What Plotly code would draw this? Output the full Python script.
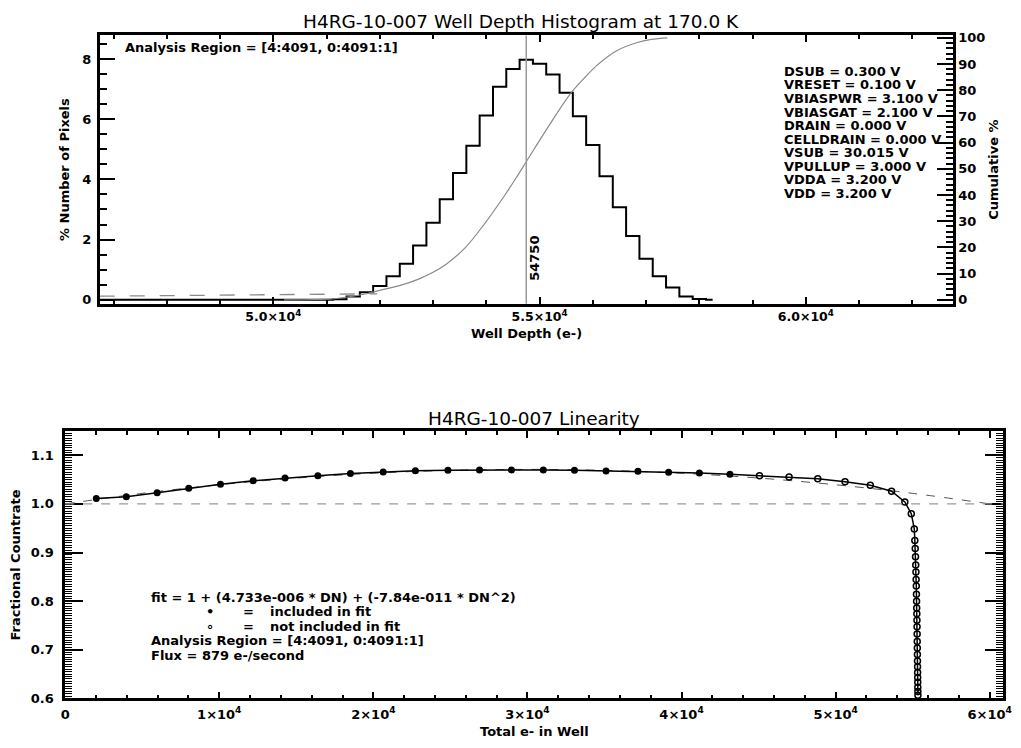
import plotly.graph_objects as go

# ---- top panel: well depth histogram (bin centres, % of pixels) ----
HIST_BIN_CENTER = [46750, 51000, 51250, 51500, 51750, 52000, 52250, 52500, 52750, 53000,
                   53250, 53500, 53750, 54000, 54250, 54500, 54750, 55000, 55250, 55500,
                   55750, 56000, 56250, 56500, 56750, 57000, 57250, 57500, 57750, 58000, 58250]
HIST_PCT = [0, 0, 0.02, 0.11, 0.25, 0.46, 0.78, 1.20, 1.80, 2.56,
            3.34, 4.21, 5.12, 6.12, 7.08, 7.67, 7.97, 7.84, 7.48, 6.88,
            6.10, 5.14, 4.10, 3.07, 2.12, 1.36, 0.78, 0.41, 0.11, 0.03, 0]

CUM_X = [50200, 50800, 51150, 51750, 52000, 52400, 52740, 53000, 53240, 53610, 53980, 54350,
         54590, 54750, 55150, 55580, 55830, 56070, 56440, 56820, 57100, 57400]
CUM_PCT = [0.0, 0.1, 0.4, 2.3, 3.6, 5.6, 8.0, 10.5, 13.5, 20.0, 29.4, 40.0,
           47.5, 52.7, 65.6, 78.7, 84.4, 89.4, 95.0, 98.1, 99.4, 100.0]

TAIL_X = [46740, 51950]
TAIL_PCT = [0.12, 0.2]

PEAK_DEPTH = 54750

TOP_XTICK_VALS = [50000, 55000, 60000]
TOP_XTICK_TEXT = ["5.0×10<sup>4</sup>", "5.5×10<sup>4</sup>", "6.0×10<sup>4</sup>"]

BIAS_LINES = ["DSUB = 0.300 V", "VRESET = 0.100 V", "VBIASPWR = 3.100 V", "VBIASGAT = 2.100 V",
              "DRAIN = 0.000 V", "CELLDRAIN = 0.000 V", "VSUB = 30.015 V", "VPULLUP = 3.000 V",
              "VDDA = 3.200 V", "VDD = 3.200 V"]

# ---- bottom panel: linearity ----
FIT_IN_X = [2020, 3970, 5970, 8020, 10080, 12200, 14270, 16400, 18510, 20640, 22730,
            24840, 26890, 28960, 31030, 33050, 35100, 37170, 39160, 41160, 43140]
FIT_IN_Y = [1.0109, 1.0149, 1.0229, 1.0322, 1.0402, 1.0477, 1.0531, 1.0577, 1.0624, 1.0658, 1.0684,
            1.0691, 1.0698, 1.0698, 1.0698, 1.0691, 1.0678, 1.0671, 1.0651, 1.0638, 1.0611]
FIT_OUT_X = [45060, 46980, 48840, 50610, 52250, 53630, 54490, 54910,
             55105, 55140, 55165, 55185, 55200, 55212, 55224, 55235, 55245, 55254, 55262, 55270,
             55277, 55284, 55290, 55296, 55302, 55307, 55312, 55317, 55321, 55325, 55329, 55333,
             55337, 55340]
FIT_OUT_Y = [1.0577, 1.0551, 1.0517, 1.0457, 1.0382, 1.0262, 1.004, 0.980,
             0.9485, 0.925, 0.9082, 0.8913, 0.8746, 0.860, 0.8445, 0.831, 0.8143, 0.7996, 0.7861, 0.774,
             0.7606, 0.7473, 0.7324, 0.7171, 0.7036, 0.6901, 0.6769, 0.6654, 0.6533, 0.6433, 0.6332, 0.6231,
             0.6145, 0.6064]

FIT_CURVE_X = [0, 5000, 10000, 15000, 20000, 25000, 30000, 35000, 40000, 45000, 50000, 55000, 60000]
FIT_CURVE_Y = [1.0, 1.0217, 1.0394, 1.0532, 1.0631, 1.0690, 1.0710, 1.0690, 1.0631, 1.0532,
               1.0394, 1.0217, 1.0]

BOT_XTICK_VALS = [0, 10000, 20000, 30000, 40000, 50000, 60000]
BOT_XTICK_TEXT = ["0", "1×10<sup>4</sup>", "2×10<sup>4</sup>", "3×10<sup>4</sup>",
                  "4×10<sup>4</sup>", "5×10<sup>4</sup>", "6×10<sup>4</sup>"]

W, H = 1021, 748
FONT = "DejaVu Sans, Verdana, sans-serif"


def px(x):
    return x / W


def py(y):
    return 1 - y / H


fig = go.Figure()

# top panel traces
fig.add_trace(go.Scatter(x=HIST_BIN_CENTER, y=HIST_PCT, mode="lines", line_shape="hvh",
                         line=dict(color="black", width=2), xaxis="x", yaxis="y"))
fig.add_trace(go.Scatter(x=TAIL_X, y=TAIL_PCT, mode="lines",
                         line=dict(color="#8a8a8a", width=1.3, dash="longdash"), xaxis="x", yaxis="y"))
fig.add_trace(go.Scatter(x=CUM_X, y=CUM_PCT, mode="lines", line_shape="spline",
                         line=dict(color="#8a8a8a", width=1.2), xaxis="x", yaxis="y2"))

# bottom panel traces
fig.add_trace(go.Scatter(x=FIT_CURVE_X, y=FIT_CURVE_Y, mode="lines", line_shape="spline",
                         line=dict(color="#555555", width=1, dash="dash"), xaxis="x2", yaxis="y3"))
fig.add_trace(go.Scatter(x=FIT_IN_X + FIT_OUT_X, y=FIT_IN_Y + FIT_OUT_Y, mode="lines",
                         line=dict(color="black", width=1.5), xaxis="x2", yaxis="y3"))
fig.add_trace(go.Scatter(x=FIT_IN_X, y=FIT_IN_Y, mode="markers",
                         marker=dict(color="black", size=7, symbol="circle"), xaxis="x2", yaxis="y3"))
fig.add_trace(go.Scatter(x=FIT_OUT_X, y=FIT_OUT_Y, mode="markers",
                         marker=dict(color="black", size=6, symbol="circle-open", line=dict(width=1.5)),
                         xaxis="x2", yaxis="y3"))

bold = dict(family=FONT, size=13, color="black", weight="bold")
axis_common = dict(showline=True, linecolor="black", linewidth=2.5, ticks="inside",
                   tickcolor="black", showgrid=False, zeroline=False, tickfont=bold)

fig.update_layout(
    width=W, height=H, margin=dict(l=0, r=0, t=0, b=0),
    paper_bgcolor="white", plot_bgcolor="white", showlegend=False,
    font=dict(family=FONT, color="black"),
    xaxis=dict(domain=[px(96), px(961)], anchor="y", range=[46740, 62760],
               tickmode="array", tickvals=TOP_XTICK_VALS, ticktext=TOP_XTICK_TEXT,
               ticklen=7, tickwidth=2, mirror="ticks", ticklabelstandoff=0,
               minor=dict(tickmode="linear", tick0=0, dtick=1000, ticklen=4, tickwidth=1.5,
                          tickcolor="black", ticks="inside"),
               **{**axis_common, "tickfont": {**bold, "size": 12.5}}),
    yaxis=dict(domain=[py(304), py(31)], anchor="x", range=[-0.13, 8.78],
               tickmode="linear", tick0=0, dtick=2, ticklen=16, tickwidth=2, ticklabelstandoff=3,
               minor=dict(dtick=0.5, ticklen=8, tickwidth=1.5, tickcolor="black", ticks="inside"),
               title=dict(text="% Number of Pixels", font=bold, standoff=10), **axis_common),
    yaxis2=dict(overlaying="y", side="right", anchor="x", range=[-1.5, 100.9],
                tickmode="linear", tick0=0, dtick=10, ticklen=16, tickwidth=2,
                minor=dict(dtick=2, ticklen=7, tickwidth=1.5, tickcolor="black", ticks="inside"),
                title=dict(text="Cumulative %", font=bold, standoff=5), **axis_common),
    xaxis2=dict(domain=[px(61), px(1012)], anchor="y3", range=[0, 60870],
                tickmode="array", tickvals=BOT_XTICK_VALS, ticktext=BOT_XTICK_TEXT,
                ticklen=7, tickwidth=2, mirror="ticks", ticklabelstandoff=2,
                minor=dict(tickmode="linear", tick0=0, dtick=2000, ticklen=4, tickwidth=1.5,
                           tickcolor="black", ticks="inside"),
                **axis_common),
    yaxis3=dict(domain=[py(705.7), py(434)], anchor="x2", range=[0.6, 1.149],
                tickmode="linear", tick0=0.6, dtick=0.1, tickformat=".1f", ticklen=18, tickwidth=2,
                mirror="ticks", ticklabelstandoff=6,
                minor=dict(dtick=0.005, ticklen=7, tickwidth=1.2, tickcolor="black", ticks="inside"),
                title=dict(text="Fractional Countrate", font=bold, standoff=8), **axis_common),
)

fig.add_shape(type="line", xref="x", yref="y domain", x0=PEAK_DEPTH, x1=PEAK_DEPTH, y0=0, y1=1,
              line=dict(color="#9a9a9a", width=1.5))
fig.add_shape(type="line", xref="x2 domain", yref="y3", x0=0, x1=1, y0=1.0, y1=1.0,
              line=dict(color="#9a9a9a", width=1.3, dash="dash"))

title_font = dict(family=FONT, size=18.5, color="black")
ann = []
ann.append(dict(text="H4RG-10-007 Well Depth Histogram at 170.0 K", x=px(523), y=py(17), font=title_font))
ann.append(dict(text="H4RG-10-007 Linearity", x=px(536), y=py(421), font=title_font))
ann.append(dict(text="Well Depth (e-)", x=px(529), y=py(334), font=bold))
ann.append(dict(text="Total e- in Well", x=px(537), y=py(739), font=bold))
ann.append(dict(text="Analysis Region = [4:4091, 0:4091:1]", x=px(120), y=py(43),
                xanchor="left", font=bold))
for i, line in enumerate(BIAS_LINES):
    ann.append(dict(text=line, x=px(788), y=py(67.5 + i * 13.8), xanchor="left", font=bold))
ann.append(dict(text=str(PEAK_DEPTH), xref="x", yref="y", x=PEAK_DEPTH, y=1.37, textangle=-90,
                xshift=8, font=bold))

ann.append(dict(text="fit = 1 + (4.733e-006 * DN) + (-7.84e-011 * DN^2)", x=px(146), y=py(603),
                xanchor="left", font=bold))
ann.append(dict(text="•", x=px(208), y=py(617.5), font=bold))
ann.append(dict(text="=", x=px(247), y=py(617.5), font=bold))
ann.append(dict(text="included in fit", x=px(267), y=py(617.5), xanchor="left", font=bold))
ann.append(dict(text="∘", x=px(208), y=py(632), font=bold))
ann.append(dict(text="=", x=px(247), y=py(632), font=bold))
ann.append(dict(text="not included in fit", x=px(267), y=py(632), xanchor="left", font=bold))
ann.append(dict(text="Analysis Region = [4:4091, 0:4091:1]", x=px(146), y=py(647),
                xanchor="left", font=bold))
ann.append(dict(text="Flux = 879 e-/second", x=px(146), y=py(662), xanchor="left", font=bold))

for a in ann:
    a.setdefault("xref", "paper")
    a.setdefault("yref", "paper")
    a.setdefault("xanchor", "center")
    a.setdefault("yanchor", "middle")
    a["showarrow"] = False
    fig.add_annotation(**a)

# drop the browser's default 8px body margin so the figure sits at the page origin
fig.write_html("out.html", config={"displayModeBar": False},
               post_script="document.body.style.margin='0px';")
